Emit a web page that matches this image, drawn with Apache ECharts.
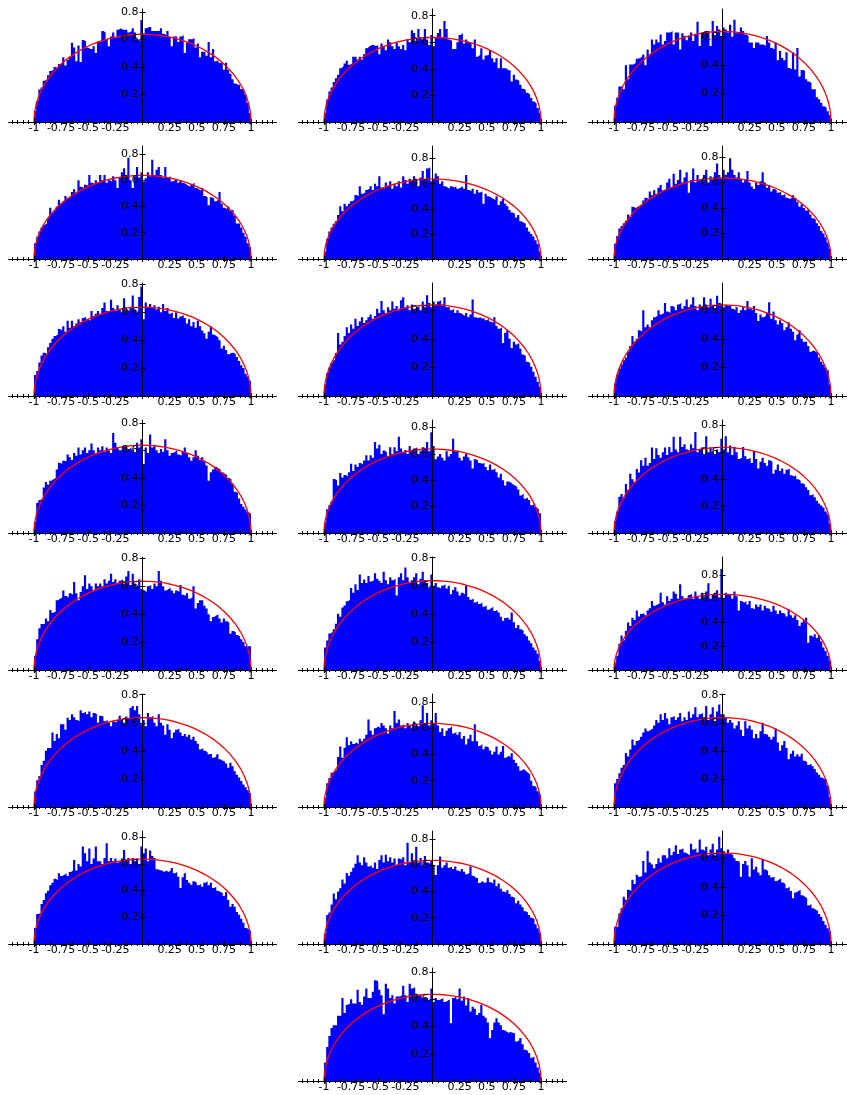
<!DOCTYPE html>
<html>
<head>
<meta charset="utf-8">
<title>Eigenvalue histograms</title>
<script src="https://cdn.jsdelivr.net/npm/echarts@6/dist/echarts.min.js"></script>
<style>
  html, body { margin: 0; padding: 0; background: #ffffff; }
  #chart { width: 847px; height: 1095px; }
</style>
</head>
<body>
<div id="chart"></div>
<script>
// Histogram densities: 100 bins of width 0.02 covering [-1, 1], one array per panel.
const panel1 = [0.08,0.15,0.235,0.25,0.30,0.31,0.34,0.37,0.38,0.40, 0.39,0.42,0.42,0.47,0.41,0.45,0.47,0.575,0.54,0.44, 0.555,0.435,0.595,0.585,0.54,0.53,0.53,0.55,0.50,0.585, 0.58,0.66,0.65,0.60,0.55,0.62,0.65,0.61,0.67,0.68, 0.67,0.67,0.67,0.65,0.66,0.68,0.65,0.60,0.59,0.74, 0.64,0.68,0.69,0.69,0.66,0.66,0.66,0.66,0.68,0.64, 0.63,0.66,0.62,0.55,0.62,0.62,0.58,0.62,0.63,0.50, 0.575,0.60,0.60,0.61,0.54,0.57,0.47,0.51,0.51,0.48, 0.58,0.47,0.53,0.44,0.45,0.43,0.43,0.38,0.43,0.38, 0.35,0.31,0.28,0.27,0.27,0.24,0.235,0.20,0.14,0.065];
const panel2 = [0.07,0.17,0.23,0.26,0.30,0.33,0.355,0.405,0.42,0.44, 0.46,0.43,0.44,0.49,0.49,0.47,0.49,0.47,0.51,0.555, 0.57,0.58,0.58,0.57,0.58,0.51,0.59,0.57,0.54,0.62, 0.60,0.57,0.55,0.60,0.57,0.55,0.58,0.54,0.62,0.60, 0.69,0.67,0.61,0.70,0.64,0.62,0.70,0.62,0.58,0.655, 0.57,0.64,0.67,0.70,0.64,0.76,0.70,0.62,0.61,0.55, 0.55,0.60,0.655,0.67,0.59,0.62,0.60,0.59,0.555,0.62, 0.49,0.505,0.555,0.47,0.50,0.505,0.54,0.48,0.45,0.48, 0.405,0.48,0.405,0.405,0.39,0.39,0.305,0.355,0.32,0.31, 0.28,0.25,0.24,0.22,0.205,0.18,0.155,0.14,0.105,0.07];
const panel3 = [0.115,0.17,0.25,0.25,0.23,0.40,0.30,0.405,0.405,0.415, 0.445,0.45,0.46,0.475,0.40,0.51,0.475,0.58,0.545,0.58, 0.56,0.615,0.545,0.57,0.63,0.63,0.64,0.545,0.63,0.63, 0.51,0.625,0.605,0.575,0.605,0.63,0.57,0.615,0.705,0.535, 0.63,0.64,0.64,0.64,0.535,0.71,0.605,0.675,0.65,0.605, 0.665,0.65,0.63,0.685,0.60,0.72,0.625,0.63,0.665,0.64, 0.615,0.605,0.56,0.56,0.52,0.56,0.56,0.545,0.545,0.535, 0.605,0.56,0.52,0.51,0.56,0.435,0.50,0.45,0.435,0.49, 0.38,0.37,0.49,0.37,0.52,0.32,0.365,0.36,0.30,0.285, 0.275,0.23,0.23,0.175,0.16,0.135,0.11,0.10,0.075,0.05];
const panel4 = [0.12,0.17,0.21,0.24,0.26,0.27,0.31,0.39,0.35,0.37, 0.40,0.45,0.42,0.44,0.48,0.46,0.47,0.51,0.53,0.50, 0.60,0.55,0.54,0.565,0.56,0.64,0.58,0.57,0.60,0.58, 0.64,0.60,0.64,0.58,0.60,0.59,0.63,0.60,0.54,0.62, 0.66,0.69,0.64,0.77,0.60,0.54,0.63,0.70,0.62,0.66, 0.59,0.615,0.66,0.63,0.755,0.64,0.68,0.70,0.64,0.62, 0.70,0.62,0.63,0.59,0.60,0.61,0.58,0.60,0.58,0.57, 0.56,0.55,0.57,0.58,0.54,0.53,0.52,0.54,0.48,0.47, 0.41,0.47,0.46,0.44,0.45,0.51,0.42,0.39,0.38,0.40, 0.37,0.375,0.33,0.27,0.27,0.24,0.20,0.17,0.12,0.09];
const panel5 = [0.06,0.16,0.22,0.25,0.28,0.30,0.35,0.42,0.38,0.44, 0.42,0.44,0.46,0.47,0.51,0.50,0.58,0.52,0.53,0.55, 0.56,0.58,0.55,0.60,0.58,0.66,0.57,0.56,0.61,0.58, 0.62,0.56,0.60,0.58,0.62,0.57,0.66,0.63,0.60,0.64, 0.62,0.66,0.64,0.58,0.65,0.70,0.63,0.72,0.73,0.62, 0.64,0.68,0.66,0.60,0.62,0.58,0.57,0.56,0.58,0.57, 0.58,0.56,0.57,0.58,0.56,0.67,0.55,0.54,0.56,0.52, 0.55,0.53,0.54,0.44,0.52,0.50,0.49,0.48,0.47,0.50, 0.43,0.46,0.48,0.44,0.42,0.39,0.37,0.36,0.33,0.35, 0.30,0.29,0.28,0.25,0.22,0.20,0.18,0.15,0.12,0.06];
const panel6 = [0.12,0.18,0.24,0.26,0.28,0.30,0.35,0.33,0.41,0.40, 0.41,0.42,0.42,0.46,0.48,0.47,0.53,0.50,0.54,0.51, 0.56,0.58,0.54,0.55,0.60,0.63,0.56,0.67,0.59,0.62, 0.70,0.60,0.64,0.68,0.52,0.62,0.71,0.60,0.66,0.62, 0.63,0.66,0.70,0.60,0.65,0.62,0.68,0.75,0.66,0.63, 0.70,0.66,0.68,0.79,0.70,0.66,0.64,0.68,0.63,0.60, 0.62,0.69,0.60,0.57,0.55,0.60,0.58,0.61,0.68,0.60, 0.56,0.58,0.53,0.55,0.54,0.52,0.53,0.50,0.51,0.48, 0.47,0.48,0.50,0.48,0.45,0.41,0.43,0.40,0.38,0.39, 0.35,0.32,0.31,0.28,0.26,0.22,0.20,0.17,0.13,0.08];
const panel7 = [0.15,0.18,0.24,0.29,0.31,0.30,0.35,0.38,0.41,0.43, 0.44,0.48,0.47,0.50,0.46,0.54,0.49,0.54,0.50,0.52, 0.55,0.53,0.56,0.57,0.55,0.54,0.61,0.57,0.59,0.61, 0.58,0.63,0.67,0.61,0.60,0.69,0.63,0.61,0.65,0.62, 0.60,0.70,0.62,0.61,0.64,0.72,0.62,0.60,0.71,0.785, 0.55,0.67,0.64,0.66,0.63,0.65,0.62,0.64,0.60,0.66, 0.61,0.63,0.59,0.60,0.56,0.60,0.555,0.57,0.58,0.56, 0.52,0.55,0.50,0.53,0.49,0.54,0.50,0.47,0.45,0.41, 0.46,0.50,0.44,0.43,0.42,0.40,0.34,0.36,0.33,0.30, 0.31,0.31,0.30,0.28,0.25,0.22,0.20,0.16,0.14,0.11];
const panel8 = [0.08,0.16,0.20,0.23,0.25,0.30,0.44,0.36,0.38,0.42, 0.48,0.44,0.50,0.47,0.54,0.49,0.52,0.55,0.51,0.53, 0.55,0.57,0.54,0.56,0.61,0.58,0.665,0.60,0.58,0.62, 0.60,0.66,0.61,0.63,0.60,0.67,0.69,0.62,0.635,0.60, 0.64,0.61,0.62,0.63,0.60,0.66,0.62,0.705,0.65,0.62, 0.66,0.64,0.66,0.67,0.64,0.69,0.62,0.62,0.60,0.61, 0.58,0.60,0.58,0.57,0.56,0.58,0.55,0.57,0.675,0.55, 0.545,0.55,0.54,0.545,0.53,0.54,0.52,0.51,0.55,0.49, 0.47,0.48,0.37,0.44,0.46,0.40,0.335,0.38,0.36,0.37, 0.33,0.29,0.28,0.24,0.23,0.205,0.17,0.135,0.10,0.065];
const panel9 = [0.09,0.15,0.19,0.22,0.25,0.27,0.31,0.35,0.42,0.38, 0.40,0.46,0.45,0.60,0.48,0.50,0.48,0.53,0.55,0.56, 0.60,0.57,0.58,0.65,0.59,0.58,0.63,0.62,0.60,0.64, 0.65,0.61,0.63,0.675,0.62,0.64,0.69,0.63,0.60,0.64, 0.62,0.69,0.64,0.62,0.68,0.63,0.61,0.70,0.65,0.64, 0.62,0.635,0.63,0.64,0.61,0.60,0.62,0.58,0.60,0.62, 0.60,0.665,0.61,0.60,0.63,0.58,0.525,0.57,0.55,0.56, 0.58,0.655,0.54,0.59,0.53,0.50,0.53,0.51,0.46,0.48, 0.515,0.47,0.45,0.39,0.43,0.46,0.40,0.38,0.38,0.35, 0.31,0.32,0.31,0.30,0.27,0.24,0.22,0.20,0.18,0.08];
const panel10 = [0.08,0.22,0.24,0.25,0.33,0.37,0.35,0.38,0.39,0.40, 0.46,0.51,0.50,0.525,0.52,0.57,0.55,0.53,0.58,0.56, 0.62,0.57,0.60,0.62,0.58,0.60,0.65,0.60,0.58,0.62, 0.60,0.63,0.59,0.62,0.60,0.58,0.725,0.655,0.62,0.60, 0.60,0.63,0.64,0.61,0.62,0.60,0.58,0.655,0.62,0.68, 0.50,0.62,0.58,0.715,0.62,0.64,0.60,0.58,0.61,0.59, 0.68,0.60,0.56,0.58,0.59,0.60,0.57,0.56,0.59,0.62, 0.58,0.55,0.525,0.55,0.60,0.56,0.53,0.55,0.52,0.49, 0.38,0.44,0.46,0.48,0.47,0.46,0.44,0.43,0.42,0.40, 0.39,0.36,0.30,0.29,0.25,0.21,0.19,0.17,0.15,0.14];
const panel11 = [0.08,0.18,0.21,0.24,0.41,0.40,0.36,0.455,0.42,0.44, 0.43,0.46,0.525,0.47,0.52,0.50,0.53,0.52,0.55,0.59, 0.55,0.59,0.57,0.69,0.64,0.67,0.60,0.625,0.61,0.58, 0.65,0.60,0.65,0.62,0.73,0.64,0.61,0.63,0.60,0.66, 0.62,0.64,0.65,0.60,0.62,0.65,0.64,0.69,0.62,0.765, 0.66,0.56,0.58,0.60,0.57,0.55,0.62,0.58,0.60,0.715, 0.62,0.63,0.57,0.55,0.58,0.60,0.575,0.55,0.49,0.56, 0.55,0.53,0.525,0.53,0.50,0.475,0.52,0.48,0.49,0.46, 0.42,0.45,0.40,0.36,0.39,0.385,0.37,0.36,0.35,0.33, 0.285,0.30,0.26,0.27,0.25,0.21,0.22,0.195,0.18,0.15];
const panel12 = [0.09,0.16,0.27,0.29,0.26,0.365,0.32,0.44,0.40,0.38, 0.475,0.45,0.54,0.50,0.56,0.50,0.52,0.635,0.55,0.63, 0.58,0.56,0.60,0.635,0.58,0.64,0.60,0.715,0.62,0.60, 0.715,0.64,0.66,0.62,0.61,0.66,0.63,0.75,0.60,0.62, 0.635,0.58,0.72,0.60,0.635,0.60,0.58,0.62,0.60,0.70, 0.62,0.72,0.60,0.65,0.58,0.64,0.60,0.55,0.56,0.64, 0.57,0.55,0.56,0.52,0.61,0.55,0.48,0.53,0.56,0.52, 0.50,0.54,0.53,0.44,0.47,0.51,0.46,0.48,0.44,0.47, 0.48,0.43,0.42,0.43,0.40,0.39,0.37,0.36,0.34,0.32, 0.28,0.29,0.265,0.24,0.22,0.205,0.19,0.16,0.14,0.07];
const panel13 = [0.10,0.22,0.30,0.33,0.33,0.37,0.35,0.43,0.41,0.42, 0.50,0.51,0.52,0.57,0.53,0.52,0.55,0.54,0.63,0.55, 0.50,0.56,0.60,0.68,0.58,0.62,0.60,0.57,0.62,0.60, 0.62,0.60,0.65,0.62,0.64,0.69,0.63,0.65,0.62,0.64, 0.65,0.62,0.67,0.71,0.61,0.69,0.62,0.60,0.65,0.58, 0.57,0.56,0.60,0.61,0.58,0.62,0.60,0.71,0.64,0.60, 0.57,0.58,0.59,0.57,0.55,0.57,0.56,0.61,0.54,0.53, 0.55,0.51,0.52,0.60,0.44,0.48,0.50,0.50,0.46,0.44, 0.40,0.35,0.38,0.39,0.40,0.37,0.34,0.37,0.35,0.34, 0.26,0.28,0.27,0.25,0.24,0.22,0.20,0.17,0.17,0.17];
const panel14 = [0.16,0.21,0.26,0.27,0.29,0.33,0.40,0.38,0.445,0.46, 0.49,0.50,0.585,0.55,0.61,0.57,0.68,0.62,0.645,0.62, 0.67,0.63,0.64,0.69,0.65,0.635,0.62,0.70,0.64,0.61, 0.66,0.64,0.65,0.53,0.66,0.69,0.64,0.73,0.66,0.62, 0.64,0.66,0.69,0.61,0.65,0.70,0.64,0.62,0.59,0.68, 0.60,0.62,0.59,0.58,0.60,0.61,0.58,0.60,0.54,0.57, 0.59,0.56,0.53,0.55,0.54,0.60,0.52,0.50,0.51,0.48, 0.49,0.47,0.48,0.45,0.46,0.43,0.44,0.45,0.42,0.43, 0.41,0.38,0.35,0.37,0.375,0.36,0.41,0.34,0.30,0.32, 0.29,0.28,0.255,0.24,0.21,0.19,0.16,0.14,0.115,0.065];
const panel15 = [0.06,0.12,0.22,0.29,0.25,0.33,0.40,0.37,0.44,0.42, 0.50,0.45,0.47,0.48,0.46,0.50,0.52,0.58,0.54,0.55, 0.56,0.65,0.57,0.55,0.62,0.58,0.60,0.66,0.64,0.60, 0.72,0.62,0.60,0.61,0.63,0.64,0.60,0.66,0.62,0.60, 0.65,0.62,0.66,0.73,0.60,0.63,0.65,0.67,0.61,0.85, 0.60,0.65,0.63,0.64,0.60,0.66,0.62,0.50,0.58,0.565, 0.58,0.55,0.58,0.52,0.51,0.55,0.53,0.55,0.50,0.54, 0.52,0.51,0.49,0.54,0.50,0.47,0.50,0.48,0.47,0.45, 0.51,0.46,0.44,0.46,0.42,0.37,0.40,0.42,0.44,0.23, 0.29,0.275,0.30,0.27,0.29,0.24,0.19,0.16,0.12,0.08];
const panel16 = [0.11,0.19,0.22,0.30,0.33,0.40,0.42,0.42,0.53,0.47, 0.52,0.49,0.59,0.59,0.55,0.635,0.62,0.66,0.64,0.62, 0.61,0.69,0.67,0.68,0.66,0.68,0.64,0.67,0.66,0.60, 0.65,0.645,0.61,0.62,0.60,0.575,0.61,0.60,0.62,0.65, 0.62,0.60,0.645,0.63,0.705,0.72,0.69,0.72,0.66,0.59, 0.62,0.575,0.67,0.64,0.65,0.60,0.575,0.66,0.60,0.58, 0.515,0.59,0.55,0.49,0.53,0.55,0.56,0.53,0.505,0.52, 0.50,0.515,0.48,0.50,0.47,0.45,0.41,0.42,0.40,0.39, 0.375,0.38,0.35,0.36,0.375,0.34,0.33,0.325,0.31,0.28, 0.315,0.29,0.255,0.23,0.21,0.185,0.16,0.14,0.12,0.10];
const panel17 = [0.07,0.18,0.22,0.26,0.27,0.285,0.38,0.46,0.375,0.45, 0.53,0.47,0.50,0.48,0.49,0.475,0.52,0.50,0.52,0.55, 0.665,0.58,0.55,0.60,0.615,0.60,0.64,0.62,0.60,0.56, 0.62,0.60,0.73,0.64,0.665,0.62,0.63,0.60,0.64,0.62, 0.60,0.65,0.62,0.61,0.66,0.775,0.64,0.715,0.62,0.66, 0.64,0.715,0.62,0.57,0.60,0.54,0.58,0.60,0.615,0.56, 0.57,0.55,0.57,0.52,0.54,0.475,0.52,0.55,0.50,0.63, 0.50,0.465,0.48,0.44,0.46,0.45,0.43,0.40,0.42,0.46, 0.40,0.42,0.465,0.375,0.39,0.38,0.41,0.36,0.335,0.31, 0.275,0.29,0.275,0.26,0.25,0.20,0.16,0.15,0.12,0.095];
const panel18 = [0.17,0.20,0.24,0.28,0.30,0.385,0.36,0.41,0.48,0.44, 0.47,0.48,0.50,0.53,0.56,0.54,0.55,0.56,0.58,0.62, 0.60,0.66,0.62,0.67,0.63,0.59,0.64,0.65,0.62,0.64, 0.67,0.61,0.64,0.62,0.68,0.635,0.66,0.71,0.64,0.66, 0.67,0.64,0.72,0.62,0.66,0.71,0.61,0.68,0.73,0.66, 0.66,0.635,0.60,0.62,0.60,0.56,0.58,0.61,0.55,0.505, 0.61,0.56,0.58,0.55,0.49,0.52,0.49,0.54,0.60,0.52, 0.515,0.50,0.48,0.50,0.56,0.46,0.40,0.44,0.47,0.42, 0.34,0.38,0.40,0.36,0.375,0.36,0.38,0.33,0.32,0.30, 0.31,0.29,0.27,0.245,0.23,0.21,0.20,0.20,0.15,0.07];
const panel19 = [0.12,0.225,0.23,0.30,0.33,0.38,0.40,0.44,0.46,0.49, 0.48,0.53,0.51,0.52,0.53,0.51,0.54,0.55,0.63,0.55, 0.60,0.58,0.73,0.68,0.62,0.715,0.60,0.64,0.73,0.62, 0.62,0.60,0.645,0.755,0.62,0.645,0.62,0.64,0.61,0.62, 0.64,0.705,0.63,0.645,0.60,0.645,0.62,0.64,0.60,0.73, 0.68,0.715,0.62,0.70,0.66,0.645,0.56,0.555,0.55,0.54, 0.55,0.54,0.55,0.57,0.53,0.54,0.505,0.42,0.50,0.53, 0.48,0.46,0.445,0.47,0.46,0.44,0.45,0.43,0.46,0.47, 0.44,0.46,0.42,0.43,0.40,0.39,0.38,0.36,0.39,0.33, 0.28,0.30,0.28,0.24,0.22,0.19,0.16,0.12,0.11,0.10];
const panel20 = [0.08,0.22,0.24,0.30,0.385,0.34,0.40,0.425,0.49,0.46, 0.54,0.52,0.55,0.58,0.61,0.675,0.62,0.60,0.66,0.62, 0.59,0.60,0.58,0.62,0.57,0.64,0.675,0.62,0.68,0.63, 0.66,0.62,0.65,0.60,0.65,0.64,0.66,0.60,0.77,0.62, 0.69,0.63,0.74,0.62,0.655,0.60,0.67,0.62,0.61,0.64, 0.60,0.525,0.60,0.665,0.58,0.60,0.62,0.58,0.59,0.57, 0.59,0.56,0.55,0.57,0.55,0.53,0.54,0.59,0.52,0.505, 0.50,0.465,0.48,0.465,0.47,0.505,0.47,0.46,0.49,0.44, 0.46,0.42,0.40,0.39,0.41,0.38,0.36,0.35,0.31,0.33, 0.30,0.28,0.25,0.24,0.22,0.20,0.19,0.15,0.12,0.085];
const panel21 = [0.12,0.12,0.215,0.25,0.33,0.31,0.38,0.37,0.45,0.42, 0.485,0.47,0.475,0.58,0.50,0.65,0.57,0.555,0.53,0.56, 0.60,0.57,0.62,0.62,0.60,0.67,0.62,0.645,0.69,0.63, 0.66,0.67,0.64,0.63,0.62,0.70,0.66,0.67,0.64,0.73, 0.66,0.65,0.68,0.62,0.66,0.70,0.62,0.66,0.75,0.67, 0.65,0.63,0.66,0.63,0.62,0.60,0.58,0.575,0.47,0.56, 0.58,0.55,0.47,0.60,0.52,0.54,0.50,0.48,0.59,0.52, 0.51,0.48,0.465,0.47,0.44,0.45,0.46,0.43,0.42,0.39, 0.40,0.37,0.32,0.36,0.37,0.38,0.34,0.33,0.32,0.27, 0.28,0.25,0.24,0.23,0.21,0.19,0.16,0.135,0.11,0.09];
const panel22 = [0.135,0.25,0.33,0.39,0.41,0.41,0.48,0.48,0.61,0.50, 0.56,0.57,0.60,0.57,0.57,0.67,0.58,0.56,0.62,0.68, 0.61,0.61,0.655,0.74,0.73,0.67,0.63,0.49,0.715,0.68, 0.61,0.63,0.57,0.62,0.62,0.63,0.70,0.63,0.58,0.715, 0.68,0.69,0.64,0.63,0.63,0.61,0.61,0.61,0.595,0.68, 0.58,0.61,0.595,0.60,0.61,0.58,0.59,0.60,0.425,0.61, 0.62,0.60,0.68,0.59,0.62,0.555,0.61,0.51,0.545,0.53, 0.485,0.50,0.56,0.48,0.465,0.43,0.315,0.375,0.43,0.46, 0.43,0.41,0.375,0.365,0.355,0.36,0.355,0.35,0.29,0.30, 0.315,0.27,0.23,0.22,0.205,0.17,0.18,0.135,0.10,0.06];

const panels = [panel1, panel2, panel3, panel4, panel5, panel6, panel7, panel8, panel9, panel10, panel11,
                panel12, panel13, panel14, panel15, panel16, panel17, panel18, panel19, panel20, panel21, panel22];

// Upper end of each panel's vertical axis.
const axisTop = [0.82, 0.85, 0.795, 0.86, 0.90, 0.887, 0.81, 0.79, 0.79, 0.82, 0.857,
                 0.84, 0.81, 0.805, 0.95, 0.805, 0.86, 0.805, 0.847, 0.86, 0.79, 0.83];

// Reference density drawn over every histogram.
const curveX = [-1, -0.999, -0.995, -0.99, -0.98, -0.97, -0.96, -0.94, -0.92, -0.9, -0.88, -0.85, -0.8, -0.75, -0.7, -0.65, -0.6, -0.55, -0.5, -0.45, -0.4, -0.35, -0.3, -0.25, -0.2, -0.15, -0.1, -0.05,
                0, 0.05, 0.1, 0.15, 0.2, 0.25, 0.3, 0.35, 0.4, 0.45, 0.5, 0.55, 0.6, 0.65, 0.7, 0.75, 0.8, 0.85, 0.88, 0.9, 0.92, 0.94, 0.96, 0.97, 0.98, 0.99, 0.995, 0.999, 1];
const curveY = [0, 0.0285, 0.0636, 0.0898, 0.1267, 0.1548, 0.1783, 0.2172, 0.2495, 0.2775, 0.3024, 0.3354, 0.3820, 0.4211, 0.4546, 0.4838, 0.5093, 0.5317, 0.5513, 0.5685, 0.5835, 0.5963, 0.6073, 0.6164, 0.6238, 0.6294, 0.6334, 0.6358,
                0.6366, 0.6358, 0.6334, 0.6294, 0.6238, 0.6164, 0.6073, 0.5963, 0.5835, 0.5685, 0.5513, 0.5317, 0.5093, 0.4838, 0.4546, 0.4211, 0.3820, 0.3354, 0.3024, 0.2775, 0.2495, 0.2172, 0.1783, 0.1548, 0.1267, 0.0898, 0.0636, 0.0285, 0];

// Tick positions and labels.
const xMajorTicks = [-1, -0.75, -0.5, -0.25, 0, 0.25, 0.5, 0.75, 1];
const xTickLabels = [-1, -0.75, -0.5, -0.25, 0.25, 0.5, 0.75, 1];
const xMinorTicks = [-1.2, -1.15, -1.1, -1.05, -0.95, -0.9, -0.85, -0.8, -0.7, -0.65, -0.6, -0.55, -0.45, -0.4, -0.35, -0.3, -0.2, -0.15, -0.1, -0.05,
                     0.05, 0.1, 0.15, 0.2, 0.3, 0.35, 0.4, 0.45, 0.55, 0.6, 0.65, 0.7, 0.8, 0.85, 0.9, 0.95, 1.05, 1.1, 1.15, 1.2];
const yTickLabels = [0.2, 0.4, 0.6, 0.8];

// Page layout (pixels).
const BIN_LO = -1, BIN_W = 0.02;
const X_HALF = 1.235;            // half-width of the horizontal axis in data units
const UNIT = 108.5;              // pixels per x unit
const ZERO_X = [142.5, 432.5, 722.5];
const BASE_Y0 = 122, ROW_STEP = 137, AXIS_H = 113;
const FONT = 'DejaVu Sans';
const FONT_SIZE = 11;

const grids = [], xAxes = [], yAxes = [], series = [];

panels.forEach((vals, k) => {
  const row = k < 21 ? Math.floor(k / 3) : 7;
  const col = k < 21 ? k % 3 : 1;
  const baseY = BASE_Y0 + ROW_STEP * row;
  grids.push({
    left: ZERO_X[col] - X_HALF * UNIT,
    top: baseY - AXIS_H,
    width: 2 * X_HALF * UNIT,
    height: AXIS_H,
    containLabel: false,
    outerBoundsMode: 'none'
  });

  const xi = xAxes.length;
  const lineStyle = { color: '#000000', width: 1 };
  // main horizontal axis: line, major ticks, labels
  xAxes.push({
    gridIndex: k, type: 'value', position: 'bottom', min: -X_HALF, max: X_HALF, z: 5,
    axisLine: { onZero: false, lineStyle },
    axisTick: { customValues: xMajorTicks, length: 3, lineStyle },
    axisLabel: { customValues: xTickLabels, formatter: v => String(v), margin: 1,
                 fontSize: FONT_SIZE, fontFamily: FONT, color: '#000000' },
    splitLine: { show: false }
  });
  // major ticks on the upper side
  xAxes.push({
    gridIndex: k, type: 'value', position: 'bottom', min: -X_HALF, max: X_HALF, z: 5,
    axisLine: { show: false, onZero: false },
    axisTick: { customValues: xMajorTicks, length: 3, inside: true, lineStyle },
    axisLabel: { show: false }, splitLine: { show: false }
  });
  // minor ticks, both sides
  [false, true].forEach(inside => {
    xAxes.push({
      gridIndex: k, type: 'value', position: 'bottom', min: -X_HALF, max: X_HALF, z: 5,
      axisLine: { show: false, onZero: false },
      axisTick: { customValues: xMinorTicks, length: 2, inside, lineStyle },
      axisLabel: { show: false }, splitLine: { show: false }
    });
  });

  // vertical axis sits at x = 0, i.e. X_HALF units right of the grid's left edge
  const yTicks = yTickLabels.filter(v => v <= axisTop[k] - 0.004);
  const yi = yAxes.length;
  yAxes.push({
    gridIndex: k, type: 'value', position: 'left', offset: -X_HALF * UNIT,
    min: 0, max: axisTop[k], z: 5,
    axisLine: { onZero: false, lineStyle },
    axisTick: { customValues: yTicks, length: 3, inside: true, lineStyle },
    axisLabel: { customValues: yTicks, formatter: v => v.toFixed(1), margin: 4,
                 fontSize: FONT_SIZE, fontFamily: FONT, color: '#000000' },
    splitLine: { show: false }
  });
  // tick marks on the label side of the vertical axis
  yAxes.push({
    gridIndex: k, type: 'value', position: 'left', offset: -X_HALF * UNIT,
    min: 0, max: axisTop[k], z: 5,
    axisLine: { show: false, onZero: false },
    axisTick: { customValues: yTicks, length: 3, inside: false, lineStyle },
    axisLabel: { show: false }, splitLine: { show: false }
  });

  // histogram as a filled step outline
  const steps = vals.map((v, i) => [BIN_LO + BIN_W * i, v]);
  steps.push([BIN_LO + BIN_W * vals.length, vals[vals.length - 1]]);
  series.push({
    type: 'line', xAxisIndex: xi, yAxisIndex: yi, data: steps, step: 'end',
    symbol: 'none', lineStyle: { width: 0 }, z: 2,
    areaStyle: { color: '#0000ff', opacity: 1 }, silent: true
  });
  series.push({
    type: 'line', xAxisIndex: xi, yAxisIndex: yi,
    data: curveX.map((x, i) => [x, curveY[i]]),
    symbol: 'none', lineStyle: { color: '#ff0000', width: 1.3 }, z: 3, silent: true
  });
});

const chart = echarts.init(document.getElementById('chart'), null, { renderer: 'canvas' });
chart.setOption({
  backgroundColor: '#ffffff',
  animation: false,
  grid: grids,
  xAxis: xAxes,
  yAxis: yAxes,
  series
});
</script>
</body>
</html>
